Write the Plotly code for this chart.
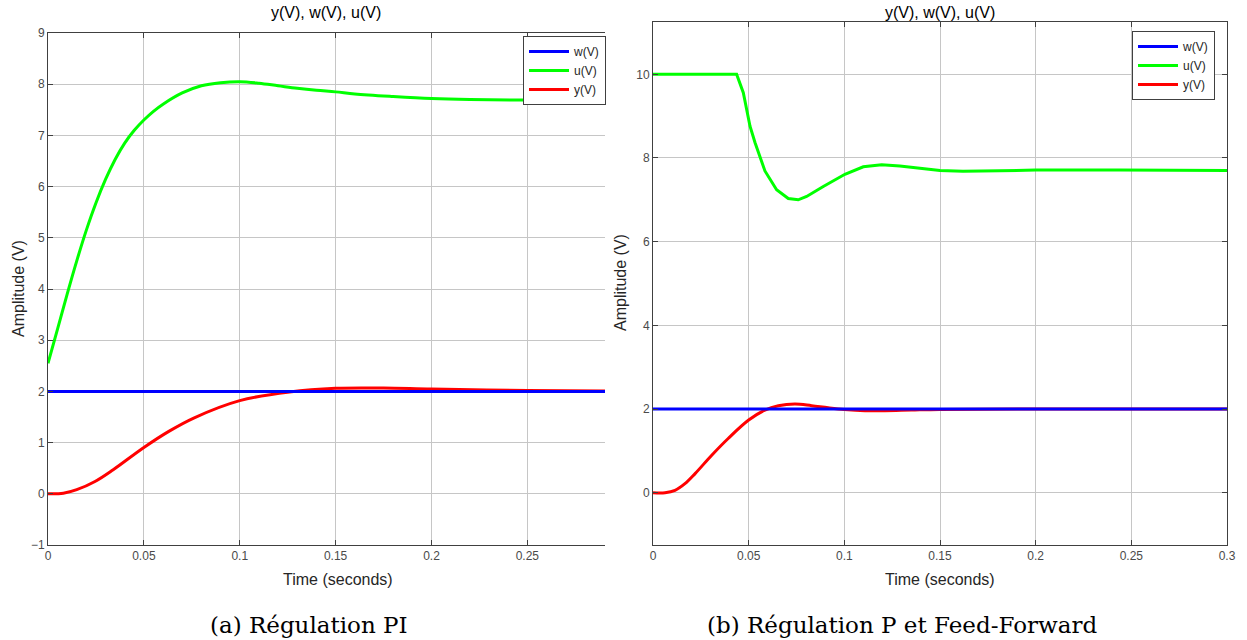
import plotly.graph_objects as go

# ---------------- Data: (a) PI regulation ----------------
t_u_pi = [0, 0.005, 0.01, 0.015, 0.02, 0.025, 0.03, 0.035, 0.04, 0.045, 0.05, 0.055, 0.06,
          0.07, 0.08, 0.09, 0.1, 0.11, 0.12, 0.13, 0.14, 0.15, 0.16, 0.18, 0.2, 0.22,
          0.25, 0.2905]
u_pi = [2.55, 3.22, 3.9, 4.55, 5.15, 5.68, 6.14, 6.53, 6.85, 7.1, 7.3, 7.47, 7.61,
        7.83, 7.97, 8.03, 8.05, 8.02, 7.97, 7.92, 7.88, 7.85, 7.81, 7.76, 7.72, 7.70,
        7.69, 7.68]
t_y_pi = [0, 0.005, 0.008, 0.015, 0.0245, 0.034, 0.05, 0.063, 0.076, 0.1, 0.126,
          0.15, 0.175, 0.2, 0.25, 0.2905]
y_pi = [0, 0.0, 0.01, 0.08, 0.24, 0.47, 0.905, 1.22, 1.48, 1.82, 1.99,
        2.06, 2.065, 2.045, 2.02, 2.01]
t_w_pi = [0, 0.2905]
w_pi = [2, 2]

# ---------------- Data: (b) P + Feed-Forward ----------------
t_u_ff = [0, 0.0437, 0.0472, 0.0507, 0.0533, 0.0559, 0.0585, 0.0646, 0.0707, 0.0759,
          0.0803, 0.089, 0.1003, 0.1099, 0.1195, 0.129, 0.1395, 0.15, 0.162, 0.2,
          0.244, 0.3]
u_ff = [10, 10, 9.56, 8.76, 8.37, 8.05, 7.69, 7.24, 7.03, 7.0,
        7.08, 7.32, 7.61, 7.79, 7.84, 7.81, 7.75, 7.70, 7.68, 7.71,
        7.71, 7.70]
t_y_ff = [0, 0.0063, 0.0115, 0.0167, 0.022, 0.0307, 0.0393, 0.05, 0.0585, 0.0655,
          0.0742, 0.0829, 0.0916, 0.1, 0.1108, 0.1212, 0.135, 0.15, 0.2, 0.3]
y_ff = [0, 0, 0.056, 0.216, 0.456, 0.896, 1.296, 1.736, 1.976, 2.08,
        2.12, 2.08, 2.03, 1.99, 1.96, 1.96, 1.975, 1.99, 2.0, 2.0]
t_w_ff = [0, 0.3]
w_ff = [2, 2]

# ---------------- Text ----------------
panel_title = "y(V), w(V), u(V)"
x_label = "Time (seconds)"
y_label = "Amplitude (V)"
captions = ["(a) Régulation PI", "(b) Régulation P et Feed-Forward"]
x_ticks_a = [0, 0.05, 0.1, 0.15, 0.2, 0.25]
x_ticks_b = [0, 0.05, 0.1, 0.15, 0.2, 0.25, 0.3]
y_ticks_a = [-1, 0, 1, 2, 3, 4, 5, 6, 7, 8, 9]
y_ticks_b = [0, 2, 4, 6, 8, 10]

BLUE, GREEN, RED = "#0000ff", "#00ff00", "#ff0000"
LW = 3
W, H = 1247, 640

fig = go.Figure()

def add_panel(xa, ya, leg, tu, u, ty, y, tw, w, ushape):
    fig.add_trace(go.Scatter(x=tu, y=u, mode="lines", name="u(V)", line=dict(color=GREEN, width=LW, shape=ushape),
                             xaxis=xa, yaxis=ya, legend=leg, legendrank=2))
    fig.add_trace(go.Scatter(x=ty, y=y, mode="lines", name="y(V)", line=dict(color=RED, width=LW, shape="spline"),
                             xaxis=xa, yaxis=ya, legend=leg, legendrank=3))
    fig.add_trace(go.Scatter(x=tw, y=w, mode="lines", name="w(V)", line=dict(color=BLUE, width=LW),
                             xaxis=xa, yaxis=ya, legend=leg, legendrank=1))

add_panel("x", "y", "legend", t_u_pi, u_pi, t_y_pi, y_pi, t_w_pi, w_pi, "spline")
add_panel("x2", "y2", "legend2", t_u_ff, u_ff, t_y_ff, y_ff, t_w_ff, w_ff, "linear")

AX_COL = "#404040"
GRID_COL = "#c6c6c6"
TICK_FONT = dict(family="Liberation Sans, Arial, sans-serif", size=12, color="#4a4a4a")
common = dict(showgrid=True, gridcolor=GRID_COL, gridwidth=1, zeroline=False, automargin=False,
              showline=True, linecolor=AX_COL, linewidth=1, ticks="inside", ticklen=5,
              tickcolor=AX_COL, tickfont=TICK_FONT)

px = lambda v: v / W
py = lambda v: 1 - v / H

fig.update_layout(
    width=W, height=H, margin=dict(l=0, r=0, t=0, b=0, pad=0), autosize=False,
    paper_bgcolor="white", plot_bgcolor="white",
    font=dict(family="Liberation Sans, Arial, sans-serif", color="#262626"),
    xaxis=dict(domain=[px(48), px(605)], range=[0, 0.2905], tickvals=x_ticks_a,
               ticktext=[f"{v:g}" for v in x_ticks_a], mirror="ticks", anchor="y", **common),
    yaxis=dict(domain=[py(545), py(33)], range=[-1, 9], tickvals=y_ticks_a,
               mirror=False, anchor="x", **common),
    xaxis2=dict(domain=[px(653), px(1227)], range=[0, 0.3], tickvals=x_ticks_b,
                ticktext=[f"{v:g}" for v in x_ticks_b], mirror="ticks", anchor="y2", **common),
    yaxis2=dict(domain=[py(545), py(22)], range=[-1.25, 11.25], tickvals=y_ticks_b,
                mirror="ticks", anchor="x2", **common),
    legend=dict(x=px(523), y=py(36), xanchor="left", yanchor="top",
                bgcolor="white", bordercolor=AX_COL, borderwidth=1,
                font=dict(size=12, color="#262626"), itemwidth=40, tracegroupgap=0,
                traceorder="normal"),
    legend2=dict(x=px(1215), y=py(31), xanchor="right", yanchor="top",
                 bgcolor="white", bordercolor=AX_COL, borderwidth=1,
                 font=dict(size=12, color="#262626"), itemwidth=40, tracegroupgap=0,
                 traceorder="normal"),
    showlegend=True,
)

ann = []
for cx, cy in [(326, 12), (940, 12)]:
    ann.append(dict(text=panel_title, x=px(cx), y=py(cy), xref="paper", yref="paper",
                    xanchor="center", yanchor="middle",
                    showarrow=False, font=dict(size=16, color="#000000")))
for cx in [338, 940]:
    ann.append(dict(text=x_label, x=px(cx), y=py(579), xref="paper", yref="paper",
                    xanchor="center", yanchor="middle",
                    showarrow=False, font=dict(size=16, color="#262626")))
for cx, cy in [(18, 289), (620, 283)]:
    ann.append(dict(text=y_label, x=px(cx), y=py(cy), xref="paper", yref="paper",
                    xanchor="center", yanchor="middle",
                    showarrow=False, textangle=-90, font=dict(size=16, color="#262626")))
for cx, txt in [(309, captions[0]), (902, captions[1])]:
    ann.append(dict(text=txt, x=px(cx), y=py(625), xref="paper", yref="paper",
                    xanchor="center", yanchor="middle",
                    showarrow=False, font=dict(size=23, color="#000000",
                                               family="DejaVu Serif, Liberation Serif, serif")))
fig.update_layout(annotations=ann)

fig.write_html("out.html", config={"displayModeBar": False},
               post_script="document.body.style.margin='0px';document.body.style.overflow='hidden';")
